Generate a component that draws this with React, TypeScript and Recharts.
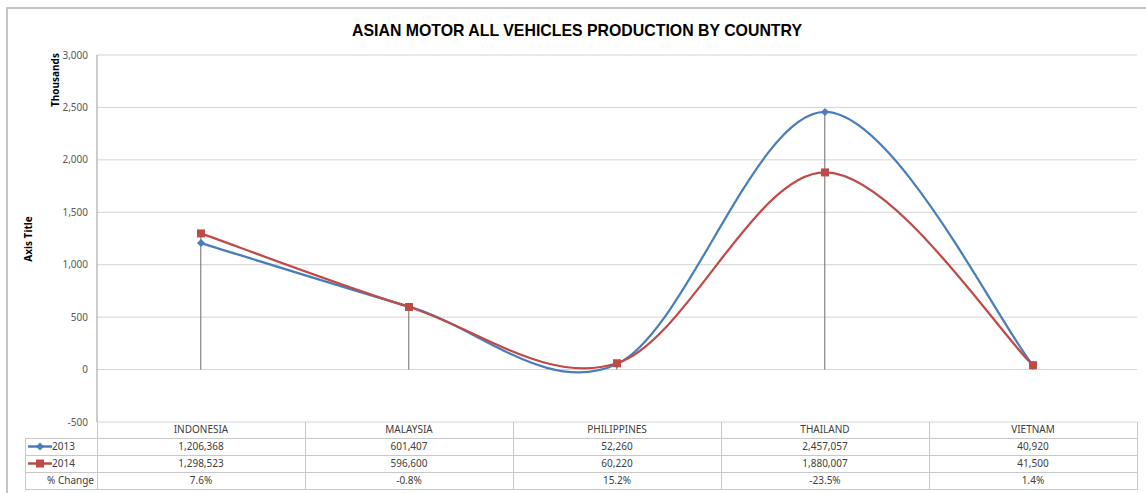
import React from 'react';
import { ComposedChart, Line, Bar, XAxis, YAxis, CartesianGrid } from 'recharts';

const countries = ['INDONESIA', 'MALAYSIA', 'PHILIPPINES', 'THAILAND', 'VIETNAM'];
const prod2013 = [1206368, 601407, 52260, 2457057, 40920];
const prod2014 = [1298523, 596600, 60220, 1880007, 41500];
const pctChange = ['7.6%', '-0.8%', '15.2%', '-23.5%', '1.4%'];
const yTicks = [-500, 0, 500, 1000, 1500, 2000, 2500, 3000];

const BLUE = '#4a7ebb';
const RED = '#be4b48';
const TEXT = '#404040';
const FONT = '"Noto Sans", "Open Sans", sans-serif';

const W = 1146;
const H = 493;
const PLOT_LEFT = 97;
const PLOT_RIGHT = 1137;
const PLOT_TOP = 55;
const PLOT_BOTTOM = 422;
const BAND = (PLOT_RIGHT - PLOT_LEFT) / countries.length;
const ROWS = [422, 438, 455, 472, 489];

const data = countries.map((c, i) => ({
  country: c,
  y2013: prod2013[i] / 1000,
  y2014: prod2014[i] / 1000,
  drop: Math.max(prod2013[i], prod2014[i]) / 1000,
}));

// Excel-style smoothing (Catmull-Rom through the points)
function excelCurve(context: any) {
  let pts: number[][] = [];
  return {
    areaStart() {},
    areaEnd() {},
    lineStart() {
      pts = [];
    },
    point(x: number, y: number) {
      pts.push([+x, +y]);
    },
    lineEnd() {
      if (!pts.length) return;
      context.moveTo(pts[0][0], pts[0][1]);
      for (let i = 0; i < pts.length - 1; i++) {
        const p0 = pts[i - 1] || pts[i];
        const p1 = pts[i];
        const p2 = pts[i + 1];
        const p3 = pts[i + 2] || p2;
        context.bezierCurveTo(
          p1[0] + (p2[0] - p0[0]) / 6,
          p1[1] + (p2[1] - p0[1]) / 6,
          p2[0] - (p3[0] - p1[0]) / 6,
          p2[1] - (p3[1] - p1[1]) / 6,
          p2[0],
          p2[1]
        );
      }
    },
  };
}

const DropLine = (props: any) => {
  const { x, y, width, height } = props;
  const cx = x + width / 2;
  return <line x1={cx} x2={cx} y1={y} y2={y + height} stroke="#6b6b6b" strokeWidth={1} />;
};

const Diamond = (props: any) => {
  const { cx, cy, index } = props;
  return (
    <path
      key={`d${index}`}
      d={`M${cx},${cy - 4}L${cx + 4},${cy}L${cx},${cy + 4}L${cx - 4},${cy}Z`}
      fill={BLUE}
    />
  );
};

const Square = (props: any) => {
  const { cx, cy, index } = props;
  return <rect key={`s${index}`} x={cx - 4} y={cy - 4} width={8} height={8} fill={RED} />;
};

const fmt = (v: number) => v.toLocaleString('en-US');

const hLine = (top: number, left: number, width: number, key: string) => (
  <div key={key} style={{ position: 'absolute', left, top, width, height: 1, background: '#c8c8c8' }} />
);
const vLine = (left: number, top: number, height: number, key: string) => (
  <div key={key} style={{ position: 'absolute', left, top, width: 1, height, background: '#c8c8c8' }} />
);

const cell = (text: string, left: number, top: number, width: number, height: number, key: string, align: any = 'center') => (
  <div
    key={key}
    style={{
      position: 'absolute',
      left,
      top,
      width,
      height,
      lineHeight: `${height}px`,
      textAlign: align,
      fontSize: 10,
      color: TEXT,
      fontFamily: FONT,
      whiteSpace: 'nowrap',
    }}
  >
    {text}
  </div>
);

function DataTable() {
  const parts: React.ReactNode[] = [];
  // horizontal rules
  parts.push(hLine(ROWS[1], 25, PLOT_RIGHT - 25, 'h1'));
  parts.push(hLine(ROWS[2], 25, PLOT_RIGHT - 25, 'h2'));
  parts.push(hLine(ROWS[3], 25, PLOT_RIGHT - 25, 'h3'));
  parts.push(hLine(ROWS[4], 25, PLOT_RIGHT - 25 + 1, 'h4'));
  // vertical rules
  parts.push(vLine(25, ROWS[1], ROWS[4] - ROWS[1], 'vL'));
  for (let i = 0; i <= countries.length; i++) {
    parts.push(vLine(Math.round(PLOT_LEFT + i * BAND), ROWS[0], ROWS[4] - ROWS[0], `v${i}`));
  }
  countries.forEach((c, i) => {
    const left = PLOT_LEFT + i * BAND;
    parts.push(cell(fmt(prod2013[i]), left, ROWS[1], BAND, ROWS[2] - ROWS[1], `a${i}`));
    parts.push(cell(fmt(prod2014[i]), left, ROWS[2], BAND, ROWS[3] - ROWS[2], `b${i}`));
    parts.push(cell(pctChange[i], left, ROWS[3], BAND, ROWS[4] - ROWS[3], `c${i}`));
  });
  // legend keys
  const key = (top: number, color: string, square: boolean, label: string, k: string) => (
    <div key={k} style={{ position: 'absolute', left: 27, top, width: 68, height: 17 }}>
      <svg width={26} height={17} style={{ position: 'absolute', left: 0, top: 0 }}>
        <line x1={1} x2={25} y1={8.5} y2={8.5} stroke={color} strokeWidth={2.5} />
        {square ? (
          <rect x={9} y={4.5} width={8} height={8} fill={color} />
        ) : (
          <path d="M13,4.5L17,8.5L13,12.5L9,8.5Z" fill={color} />
        )}
      </svg>
      <div style={{ position: 'absolute', left: 25, top: 0, lineHeight: '17px', fontSize: 10, color: TEXT, fontFamily: FONT }}>
        {label}
      </div>
    </div>
  );
  parts.push(key(ROWS[1], BLUE, false, '2013', 'k1'));
  parts.push(key(ROWS[2], RED, true, '2014', 'k2'));
  parts.push(cell('% Change', 25, ROWS[3], 69, ROWS[4] - ROWS[3], 'pc', 'right'));
  return <>{parts}</>;
}

export default function App() {
  return (
    <div
      style={{
        position: 'absolute',
        left: 0,
        top: 0,
        width: W,
        height: H,
        overflow: 'hidden',
        background: '#fff',
        fontFamily: FONT,
      }}
    >
      <div
        style={{
          position: 'absolute',
          left: 6,
          top: 7,
          width: W + 20,
          height: H + 20,
          border: '2px solid #c4c4c4',
        }}
      />
      <svg width={W} height={50} style={{ position: 'absolute', left: 0, top: 0 }}>
        <text
          x={577}
          y={36}
          textAnchor="middle"
          fontFamily='"Liberation Sans", Arial, sans-serif'
          fontWeight="bold"
          fontSize={17}
          fill="#000"
          textLength={450}
          lengthAdjust="spacingAndGlyphs"
        >
          ASIAN MOTOR ALL VEHICLES PRODUCTION BY COUNTRY
        </text>
      </svg>
      <div style={{ position: 'absolute', left: 0, top: 0 }}>
        <ComposedChart
          width={W}
          height={H}
          data={data}
          margin={{ top: PLOT_TOP, right: W - PLOT_RIGHT, bottom: 0, left: PLOT_LEFT - 50 }}
        >
          <CartesianGrid vertical={false} stroke="#d4d4d4" strokeWidth={1} />
          <XAxis
            dataKey="country"
            height={H - PLOT_BOTTOM}
            axisLine={false}
            tickLine={false}
            tickSize={0}
            tickMargin={4}
            interval={0}
            tick={{ fontSize: 10, fill: TEXT, fontFamily: FONT }}
          />
          <YAxis
            width={50}
            domain={[-500, 3000]}
            ticks={yTicks}
            allowDataOverflow
            tickFormatter={fmt}
            axisLine={{ stroke: '#9a9a9a' }}
            tickLine={false}
            tickSize={6}
            tickMargin={3}
            tick={{ fontSize: 10, fill: '#595959', fontFamily: FONT }}
          />
          <Bar dataKey="drop" shape={<DropLine />} isAnimationActive={false} />
          <Line
            dataKey="y2013"
            type={excelCurve as any}
            stroke={BLUE}
            strokeWidth={2.25}
            dot={Diamond}
            activeDot={false}
            isAnimationActive={false}
          />
          <Line
            dataKey="y2014"
            type={excelCurve as any}
            stroke={RED}
            strokeWidth={2.25}
            dot={Square}
            activeDot={false}
            isAnimationActive={false}
          />
        </ComposedChart>
      </div>
      <DataTable />
      <div
        style={{
          position: 'absolute',
          left: 55 - 40,
          top: 80 - 7,
          width: 80,
          height: 14,
          lineHeight: '14px',
          textAlign: 'center',
          transform: 'rotate(-90deg)',
          fontSize: 10,
          fontWeight: 'bold',
          color: '#000',
        }}
      >
        Thousands
      </div>
      <div
        style={{
          position: 'absolute',
          left: 28 - 40,
          top: 239 - 7,
          width: 80,
          height: 14,
          lineHeight: '14px',
          textAlign: 'center',
          transform: 'rotate(-90deg)',
          fontSize: 10,
          fontWeight: 'bold',
          color: '#000',
        }}
      >
        Axis Title
      </div>
    </div>
  );
}
